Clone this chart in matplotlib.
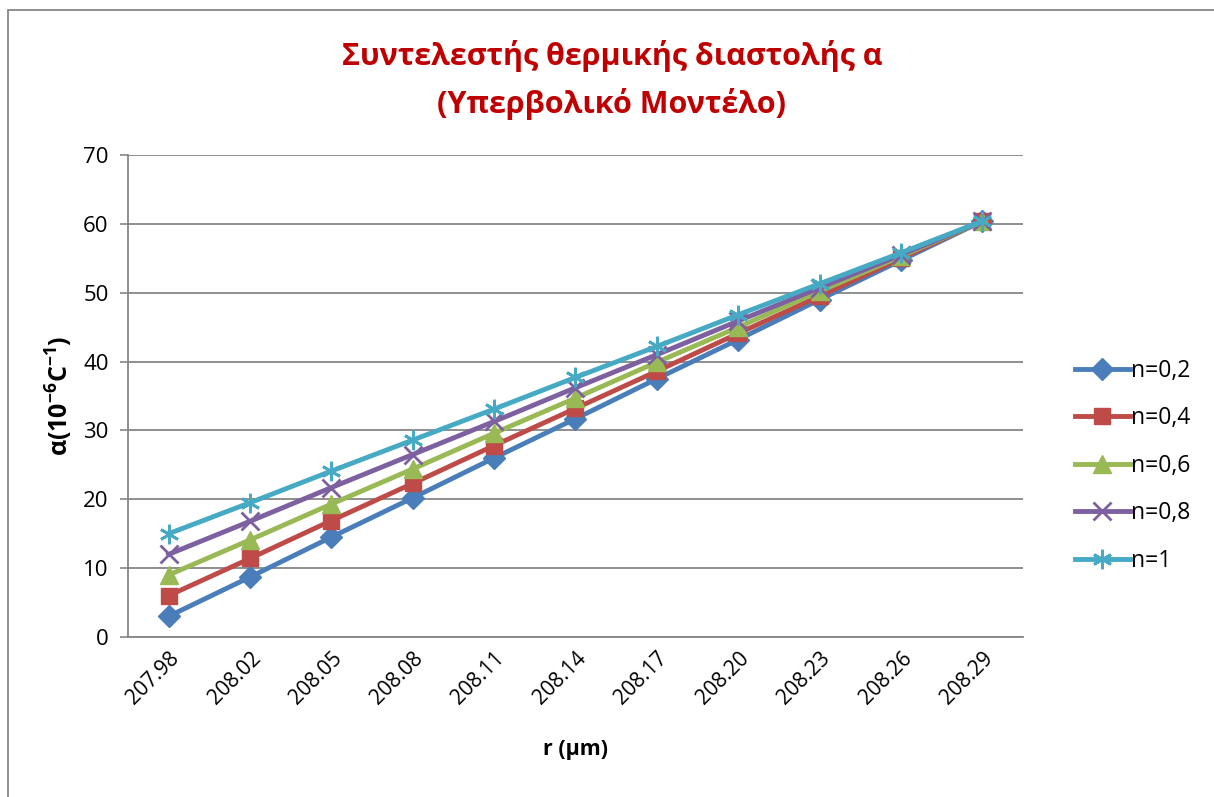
import matplotlib
matplotlib.use("Agg")
import matplotlib.pyplot as plt
from matplotlib.patches import Rectangle

plt.rcParams['font.family'] = ['Open Sans', 'DejaVu Sans']
plt.rcParams['mathtext.fontset'] = 'custom'
plt.rcParams['mathtext.rm'] = 'Open Sans'
plt.rcParams['mathtext.bf'] = 'Open Sans:bold'

# Radius values (category axis) and expansion coefficient per hardening index n
radius = ['207.98', '208.02', '208.05', '208.08', '208.11', '208.14',
          '208.17', '208.20', '208.23', '208.26', '208.29']
alpha_n02 = [3.0, 8.7, 14.5, 20.2, 26.0, 31.7, 37.5, 43.2, 49.0, 54.7, 60.4]
alpha_n04 = [6.0, 11.4, 16.9, 22.3, 27.8, 33.2, 38.6, 44.1, 49.5, 55.0, 60.4]
alpha_n06 = [9.0, 14.1, 19.3, 24.4, 29.6, 34.7, 39.9, 45.0, 50.2, 55.3, 60.4]
alpha_n08 = [12.0, 16.8, 21.7, 26.5, 31.3, 36.2, 41.0, 45.9, 50.7, 55.5, 60.4]
alpha_n1 = [15.0, 19.5, 24.1, 28.6, 33.1, 37.7, 42.2, 46.8, 51.3, 55.8, 60.4]

series = [
    ('n=0,2', alpha_n02, '#4A7EBB', 'D', 11),
    ('n=0,4', alpha_n04, '#BE4B48', 's', 12),
    ('n=0,6', alpha_n06, '#98B954', '^', 13),
    ('n=0,8', alpha_n08, '#7D60A0', 'x', 13),
    ('n=1', alpha_n1, '#46AAC5', '*', 14),
]

fig = plt.figure(figsize=(12.14, 7.97), dpi=100)
ax = fig.add_axes([0.1054, 0.2008, 0.7373, 0.6047])

x = list(range(len(radius)))
for label, values, color, marker, ms in series:
    if marker == 'x':
        ax.plot(x, values, color=color, lw=3.5, marker=marker, ms=ms,
                mew=2, label=label)
    elif marker == '*':
        ax.plot(x, values, color=color, lw=3.5, marker=(6, 2, 0), ms=ms,
                mew=2, mec=color, label=label)
    else:
        ax.plot(x, values, color=color, lw=3.5, marker=marker, ms=ms,
                mec=color, label=label)

ax.set_xlim(-0.5, len(radius) - 0.5)
ax.set_ylim(0, 70)
ax.set_yticks(range(0, 71, 10))
ax.set_xticks(x)
ax.set_xticklabels(radius, rotation=45, ha='right', rotation_mode='anchor')
ax.tick_params(axis='x', length=0, labelsize=15, pad=8)
ax.tick_params(axis='y', length=6, width=1.2, color='#868686',
               labelsize=16, pad=8)

ax.yaxis.grid(True, color='#868686', lw=1.3)
ax.set_axisbelow(True)
for side in ('top', 'right'):
    ax.spines[side].set_visible(False)
for side in ('left', 'bottom'):
    ax.spines[side].set_color('#868686')
    ax.spines[side].set_linewidth(1.3)

ax.set_xlabel('r (μm)', fontsize=15.5, fontweight='bold', labelpad=22)
ax.set_ylabel(r'α(10$^{\mathbf{-6}}$C$^{\mathbf{-1}}$)', fontsize=18,
              fontweight='bold', labelpad=6)

fig.text(0.504, 0.93, 'Συντελεστής θερμικής διαστολής α',
         ha='center', va='center', fontsize=22, fontweight='bold',
         color='#C00000')
fig.text(0.504, 0.87, '(Υπερβολικό Μοντέλο)',
         ha='center', va='center', fontsize=22, fontweight='bold',
         color='#C00000')

ax.legend(loc='center left', bbox_to_anchor=(1.035, 0.355), frameon=False,
          fontsize=16.5, handlelength=2.4, labelspacing=1.02,
          handletextpad=0.05)

# chart frame
fig.patches.append(Rectangle((8 / 1214, -0.1), 1.2, 1 - 10 / 797 + 0.1,
                             transform=fig.transFigure, fill=False,
                             edgecolor='#868686', lw=1.3))

fig.savefig('out.png', dpi=100, facecolor='white')
